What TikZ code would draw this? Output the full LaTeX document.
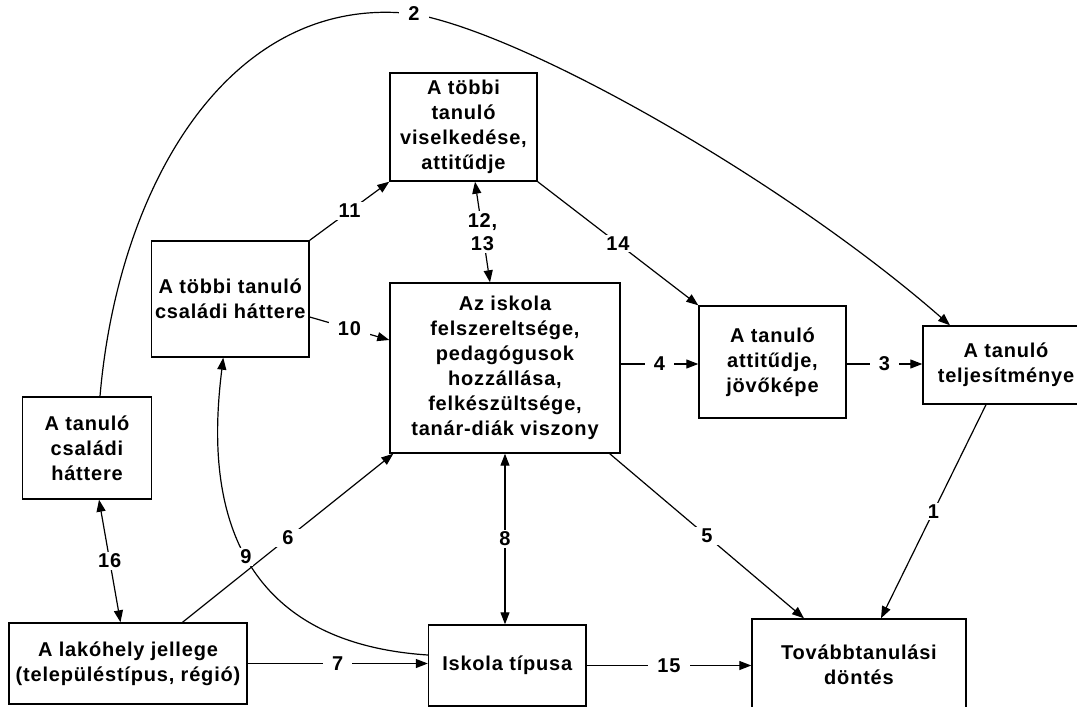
\documentclass[tikz,border=0pt]{standalone}
\usepackage{fontspec}
\setmainfont{Liberation Sans}[LetterSpace=4]
\usetikzlibrary{arrows.meta,positioning,calc}

\begin{document}
\begin{tikzpicture}[x=1pt,y=-1pt]

\tikzstyle{factor}=[rectangle, draw, line width=1.4pt, inner sep=0pt, align=center, font=\fontsize{20}{25}\selectfont\bfseries]
\tikzstyle{num}=[fill=white, inner xsep=9pt, inner ysep=2pt, align=center, font=\fontsize{20}{23}\selectfont\bfseries]
\tikzstyle{link}=[line width=1.2pt, -{Triangle[length=12pt,width=9pt]}]
\tikzstyle{twoway}=[line width=1.2pt, {Triangle[length=12pt,width=9pt]}-{Triangle[length=12pt,width=9pt]}]

\useasboundingbox (0,0) rectangle (1077,707);

\node (others) [factor, minimum width=147pt, minimum height=108pt] at (463.5,127) {A többi\\tanuló\\viselkedése,\\attitűdje};
\node (othfam) [factor, minimum width=157.5pt, minimum height=116pt] at (230.25,299) {A többi tanuló\\családi háttere};
\node (school) [factor, minimum width=230pt, minimum height=170pt] at (505,368) {Az iskola\\felszereltsége,\\pedagógusok\\hozzállása,\\felkészültsége,\\tanár-diák viszony};
\node (att) [factor, minimum width=147pt, minimum height=112pt] at (772.5,362) {A tanuló\\attitűdje,\\jövőképe};
\node (perf) [factor, minimum width=166pt, minimum height=78pt] at (1006,365) {A tanuló\\teljesítménye};
\node (fam) [factor, minimum width=129pt, minimum height=102pt] at (87,448) {A tanuló\\családi\\háttere};
\node (place) [factor, minimum width=238pt, minimum height=81pt] at (128,663.5) {A lakóhely jellege\\(településtípus, régió)};
\node (type) [factor, minimum width=157.5pt, minimum height=81pt] at (507.25,665.5) {Iskola típusa};
\node (dec) [factor, minimum width=214pt, minimum height=91pt] at (859,664.5) {Továbbtanulási\\döntés};

\draw[link] ([xshift=-20pt]perf.south) -- node[num] {1} ([xshift=22pt]dec.north);
\draw[link] ([xshift=13pt]fam.north) .. controls (118,185) and (230,-8) .. (414,14) node[num] {2}
  .. controls (530,35) and (790,185) .. ([xshift=-56pt]perf.north);
\draw[link] ([yshift=-2pt]att.east) -- node[num] {3} ([yshift=1pt]perf.west);
\draw[link] ([yshift=4pt]school.east) -- node[num] {4} ([yshift=-2pt]att.west);
\draw[link] ([xshift=-11pt]school.south east) -- node[num] {5} ([xshift=-55pt]dec.north);
\draw[link] ([xshift=54.5pt]place.north) -- node[num] {6} ([xshift=4pt]school.south west);
\draw[link] (place.east) -- node[num] {7} (place.east -| type.west);
\draw[twoway] (school.south) -- node[num] {8} (school.south |- type.north);
\draw[link] ([yshift=10.5pt]type.west) .. controls (200,640) and (212,450) .. node[num, pos=0.44, inner xsep=2pt] {9} ([xshift=-7pt]othfam.south);
\draw[link] ([yshift=-18pt]othfam.east) -- node[num] {10} ([yshift=28pt]school.west);
\draw[link] (othfam.north east) -- node[num] {11} (others.south west);
\draw[twoway] ([xshift=11.5pt]others.south) -- node[num, inner xsep=2pt] {12,\\13} ([xshift=-15pt]school.north);
\draw[link] (others.south east) -- node[num] {14} (att.north west);
\draw[link] (type.east) -- node[num] {15} (type.east -| dec.west);
\draw[twoway] ([xshift=12pt]fam.south) -- node[num, inner xsep=2pt] {16} ([xshift=-7.5pt]place.north);
\end{tikzpicture}
\end{document}
